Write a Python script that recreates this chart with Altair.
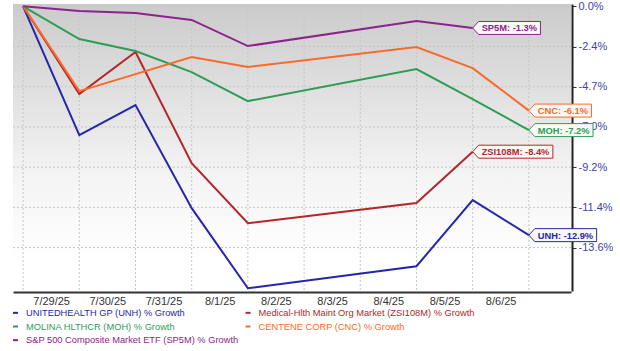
import math
import altair as alt
import pandas as pd

# ---------------- data ----------------
day_index = [0, 1, 2, 3, 4, 7, 8, 9]          # trading-day positions (7/28 .. 8/6)
x_labels = ["7/29/25", "7/30/25", "7/31/25", "8/1/25", "8/2/25",
            "8/3/25", "8/4/25", "8/5/25", "8/6/25", ""]

unh = [0.0, -7.48, -5.79, -11.47, -15.65, -14.52, -11.04, -12.9]
zsi = [0.0, -5.16, -2.72, -9.03, -12.27, -11.20, -8.4]
moh = [0.0, -1.96, -2.66, -3.89, -5.56, -3.72, -5.45, -7.2]
cnc = [0.0, -4.99, -4.01, -3.02, -3.60, -2.43, -3.66, -6.1]
sp5m = [0.0, -0.28, -0.40, -0.82, -2.37, -0.88, -1.3]

keys = ["UNH", "ZSI108M", "MOH", "CNC", "SP5M"]
series = [unh, zsi, moh, cnc, sp5m]
legend_names = ["UNITEDHEALTH GP (UNH) % Growth",
                "Medical-Hlth Maint Org Market (ZSI108M) % Growth",
                "MOLINA HLTHCR (MOH) % Growth",
                "CENTENE CORP (CNC) % Growth",
                "S&P 500 Composite Market ETF (SP5M) % Growth"]
tag_texts = ["UNH: -12.9%", "ZSI108M: -8.4%", "MOH: -7.2%", "CNC: -6.1%", "SP5M: -1.3%"]
legend_col = [0, 1, 0, 1, 0]
legend_row = [0, 0, 1, 1, 2]

# y axis is proportional to log(1 + growth); ticks evenly spaced down to -13.55 %
y_tick_labels = ["0.0%", "-2.4%", "-4.7%", "-7.0%", "-9.2%", "-11.4%", "-13.6%"]
y_bottom_tick = -13.55
y_tick_step = -math.log(1 + y_bottom_tick / 100) / 6
y_tick_values = [-y_tick_step * k for k in range(len(y_tick_labels))]
grid_x = list(range(10))

# ---------------- style ----------------
colors = ["#2626a8", "#b3262a", "#2f9c55", "#f96a2a", "#8c238c"]
FONT = "Liberation Sans"
color_scale = alt.Scale(domain=keys, range=colors)

rows = []
for k, vals in zip(keys, series):
    for i, v in zip(day_index, vals):
        rows.append({"key": k, "i": i, "v": v})
df = pd.DataFrame(rows)

# tag shapes (callout boxes)
cw = {**{d: 556 for d in "0123456789"}, ".": 278, ":": 333, " ": 278, "-": 333,
      "%": 889, "C": 722, "N": 722, "H": 722, "U": 722, "M": 833, "O": 778,
      "S": 667, "P": 667, "Z": 611, "I": 278}
TAG_FS = 9.3


def tag_path(text):
    w = 9 + sum(cw.get(c, 600) for c in text) * TAG_FS / 1000 + 3.5
    return f"M0,0L6,-6.5L{w:.1f},-6.5L{w:.1f},6.5L6,6.5Z"


tag_rows = []
for k, vals, t in zip(keys, series, tag_texts):
    tag_rows.append({"key": k, "i": day_index[len(vals) - 1], "v": vals[-1],
                     "text": t, "path": tag_path(t)})
tags = pd.DataFrame(tag_rows)

W, H = 558, 287
xs = alt.Scale(domain=[-0.18, 9.75], nice=False, zero=False)
ys = alt.Scale(domain=[-0.17183, 0.00139], nice=False, zero=False)
LOGY = "log(1 + datum.v / 100)"

label_arr = "[" + ",".join(f"'{s}'" for s in x_labels) + "]"
ylabel_arr = "[" + ",".join(f"'{s}'" for s in y_tick_labels) + "]"

x_axis = alt.Axis(values=grid_x, labelExpr=f"{label_arr}[datum.value]",
                  labelOffset=28, grid=False, ticks=False,
                  domainColor="#333333", domainWidth=2, offset=1,
                  labelColor="#333333", labelFont=FONT, labelFontSize=11,
                  labelPadding=3, labelFlush=False, labelOverlap=False,
                  labelBound=False, title=None)
y_axis = alt.Axis(orient="right", values=y_tick_values,
                  labelExpr=f"{ylabel_arr}[round(-datum.value/{y_tick_step})]",
                  grid=False, tickSize=4, tickColor="#333333",
                  domainColor="#222222", domainWidth=2, offset=1,
                  labelColor="#4343a6", labelFont=FONT, labelFontSize=11,
                  labelPadding=2, labelFlush=False, labelOverlap=False, title=None)

bg = alt.Chart(pd.DataFrame({"a": [0]})).mark_rect(
    fill=alt.Gradient(gradient="linear",
                      stops=[alt.GradientStop(color="#cbcbcb", offset=0),
                             alt.GradientStop(color="#f4f4f4", offset=0.6),
                             alt.GradientStop(color="#ffffff", offset=0.9)],
                      x1=0, x2=0, y1=0, y2=1)
).encode(opacity=alt.value(1))

vgrid = alt.Chart(pd.DataFrame({"g": grid_x})).mark_rule(
    color="#c6c6c6", strokeWidth=1, strokeDash=[2, 2]
).encode(x=alt.X("g:Q", scale=xs, axis=x_axis))

hgrid = alt.Chart(pd.DataFrame({"g": y_tick_values})).mark_rule(
    color="#c6c6c6", strokeWidth=1, strokeDash=[2, 2]
).encode(y=alt.Y("g:Q", scale=ys, axis=y_axis))

lines = alt.Chart(df).transform_calculate(ly=LOGY).mark_line(strokeWidth=2).encode(
    x=alt.X("i:Q", scale=xs, axis=x_axis),
    y=alt.Y("ly:Q", scale=ys, axis=y_axis),
    color=alt.Color("key:N", scale=color_scale, legend=None),
    detail="key:N",
)

tag_box = alt.Chart(tags).transform_calculate(ly=LOGY).mark_point(
    filled=True, fill="#f8f8f5", strokeWidth=1, opacity=1, strokeOpacity=1
).encode(
    x=alt.X("i:Q", scale=xs, axis=x_axis),
    y=alt.Y("ly:Q", scale=ys, axis=y_axis),
    shape=alt.Shape("path:N", scale=None),
    stroke=alt.Stroke("key:N", scale=color_scale, legend=None),
    size=alt.value(4),
)

tag_text = alt.Chart(tags).transform_calculate(ly=LOGY).mark_text(
    align="left", baseline="middle", dx=9, dy=0.5, font=FONT,
    fontSize=TAG_FS, fontWeight="bold"
).encode(
    x=alt.X("i:Q", scale=xs, axis=x_axis),
    y=alt.Y("ly:Q", scale=ys, axis=y_axis),
    text="text:N",
    color=alt.Color("key:N", scale=color_scale, legend=None),
)

top = alt.layer(bg, vgrid, hgrid, lines, tag_box, tag_text).properties(width=W, height=H)

# ---------------- legend panel ----------------
leg = pd.DataFrame({"key": keys, "name": legend_names, "col": legend_col, "row": legend_row})
lxs = alt.Scale(domain=[-0.0108, 2.389], nice=False, zero=False)
lys = alt.Scale(domain=[-0.5, 2.5], reverse=True, nice=False, zero=False)

leg_mark = alt.Chart(leg).mark_point(filled=True, opacity=1, strokeWidth=0).encode(
    x=alt.X("col:Q", scale=lxs, axis=None),
    y=alt.Y("row:Q", scale=lys, axis=None),
    shape=alt.value("M-2.5,-1L2.5,-1L2.5,1L-2.5,1Z"),
    size=alt.value(4),
    color=alt.Color("key:N", scale=color_scale, legend=None),
)
leg_text = alt.Chart(leg).mark_text(
    align="left", baseline="middle", dx=10.5, font=FONT, fontSize=9.3
).encode(
    x=alt.X("col:Q", scale=lxs, axis=None),
    y=alt.Y("row:Q", scale=lys, axis=None),
    text="name:N",
    color=alt.Color("key:N", scale=color_scale, legend=None),
)
legend_panel = alt.layer(leg_mark, leg_text).properties(width=W, height=41)

chart = alt.vconcat(top, legend_panel, spacing=0).configure(
    padding={"left": 12, "top": 0, "right": 0, "bottom": 0},
    background="white",
).configure_view(stroke=None)

chart.save("out.html", embed_options={"renderer": "svg", "actions": False})
